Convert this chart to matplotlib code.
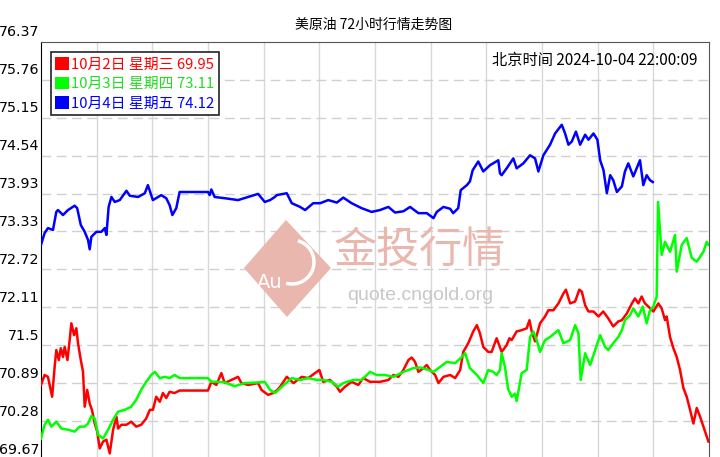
import matplotlib
matplotlib.use("Agg")
import matplotlib.pyplot as plt
import matplotlib.patches as patches
from matplotlib.transforms import ScaledTranslation

plt.rcParams['font.family'] = ['Noto Sans CJK SC', 'DejaVu Sans']

# price scale shown on the left (top to bottom)
y_ticks = [76.37, 75.76, 75.15, 74.54, 73.93, 73.33, 72.72, 72.11, 71.5, 70.89, 70.28, 69.67]
y_labels = ['76.37', '75.76', '75.15', '74.54', '73.93', '73.33', '72.72', '72.11', '71.5', '70.89', '70.28', '69.67']

legend_labels = ['10月2日 星期三 69.95', '10月3日 星期四 73.11', '10月4日 星期五 74.12']

# hours since start of the 24h window / price
red_h = [0.00, 0.13, 0.25, 0.40, 0.49, 0.55, 0.64, 0.71, 0.79, 0.85,
         0.95, 1.03, 1.09, 1.19, 1.27, 1.33, 1.43, 1.51, 1.57, 1.66,
         1.75, 1.83, 1.93, 2.02, 2.11, 2.23, 2.35, 2.47, 2.59, 2.71,
         2.77, 2.89, 3.07, 3.24, 3.42, 3.60, 3.78, 3.91, 4.02, 4.14,
         4.27, 4.38, 4.50, 4.62, 4.80, 4.98, 6.00, 6.12, 6.30, 6.48,
         6.60, 6.84, 7.08, 7.20, 7.44, 7.80, 7.92, 8.16, 8.34, 8.49,
         8.59, 8.83, 9.07, 9.37, 9.60, 9.85, 10.00, 10.14, 10.38, 10.63,
         10.74, 10.92, 11.16, 11.40, 11.58, 11.82, 12.18, 12.48, 12.66, 12.84,
         13.02, 13.20, 13.32, 13.44, 13.56, 13.74, 13.86, 13.98, 14.16, 14.28,
         14.46, 14.70, 14.88, 15.06, 15.17, 15.35, 15.53, 15.66, 15.77, 15.89,
         16.07, 16.19, 16.37, 16.55, 16.73, 16.83, 16.91, 17.09, 17.27, 17.45,
         17.55, 17.63, 17.75, 17.93, 18.11, 18.23, 18.41, 18.59, 18.77, 18.86,
         19.01, 19.19, 19.34, 19.43, 19.55, 19.67, 19.85, 20.03, 20.20, 20.38,
         20.56, 20.74, 20.87, 21.05, 21.23, 21.34, 21.46, 21.58, 21.70, 21.82,
         22.00, 22.18, 22.30, 22.42, 22.48, 22.60, 22.72, 22.84, 22.96, 23.08,
         23.20, 23.32, 23.44, 23.56, 23.68, 23.80, 23.98]
red_v = [70.86, 71.02, 70.99, 70.67, 71.15, 71.42, 71.26, 71.45, 71.31, 71.47,
         71.26, 71.58, 71.85, 71.66, 71.77, 71.53, 71.26, 71.07, 70.51, 70.78,
         70.56, 70.46, 70.24, 70.11, 69.84, 69.95, 69.98, 69.76, 70.14, 70.35,
         70.16, 70.22, 70.22, 70.27, 70.19, 70.22, 70.32, 70.46, 70.46, 70.67,
         70.59, 70.73, 70.65, 70.75, 70.73, 70.77, 70.77, 70.91, 70.86, 71.05,
         70.89, 70.94, 70.99, 70.89, 70.86, 70.89, 70.78, 70.70, 70.73, 70.78,
         70.83, 70.99, 70.89, 70.99, 70.97, 71.05, 71.10, 70.91, 70.94, 70.83,
         70.75, 70.83, 70.91, 70.86, 70.97, 70.91, 70.91, 70.94, 71.02, 70.99,
         71.10, 71.26, 71.30, 71.23, 71.07, 71.13, 71.18, 71.10, 71.02, 70.89,
         70.99, 71.02, 70.97, 71.10, 71.39, 71.53, 71.72, 71.82, 71.69, 71.47,
         71.39, 71.39, 71.61, 71.39, 71.50, 71.61, 71.58, 71.72, 71.74, 71.77,
         71.90, 71.72, 71.56, 71.85, 71.96, 72.06, 72.06, 72.17, 72.33, 72.39,
         72.17, 72.20, 72.39, 72.36, 72.14, 72.04, 72.04, 71.96, 72.04, 71.93,
         71.80, 71.88, 71.90, 72.01, 72.17, 72.25, 72.17, 72.28, 72.17, 72.12,
         72.04, 72.17, 72.09, 71.90, 71.96, 71.63, 71.45, 71.31, 71.10, 70.81,
         70.67, 70.46, 70.24, 70.49, 70.35, 70.19, 69.95]

green_h = [0.00, 0.13, 0.25, 0.37, 0.55, 0.73, 0.97, 1.21, 1.39, 1.57,
           1.69, 1.81, 1.93, 2.05, 2.23, 2.41, 2.59, 2.77, 3.01, 3.24,
           3.42, 3.60, 3.78, 3.96, 4.09, 4.27, 4.44, 4.62, 4.80, 4.98,
           6.00, 6.12, 6.36, 6.60, 6.96, 7.32, 7.80, 8.04, 8.23, 8.41,
           8.65, 9.01, 9.31, 9.60, 9.91, 10.14, 10.45, 10.68, 10.86, 11.22,
           11.52, 11.82, 12.06, 12.36, 12.66, 13.02, 13.38, 13.62, 13.86, 14.10,
           14.34, 14.58, 14.88, 15.12, 15.24, 15.41, 15.66, 15.89, 16.07, 16.25,
           16.37, 16.49, 16.55, 16.67, 16.78, 16.91, 17.03, 17.09, 17.27, 17.45,
           17.57, 17.69, 17.81, 17.93, 18.11, 18.29, 18.59, 18.77, 19.01, 19.19,
           19.31, 19.39, 19.55, 19.73, 19.91, 20.09, 20.27, 20.38, 20.56, 20.74,
           20.87, 20.98, 21.16, 21.28, 21.46, 21.62, 21.76, 21.88, 22.00, 22.12,
           22.17, 22.30, 22.42, 22.60, 22.78, 22.84, 23.02, 23.20, 23.38, 23.56,
           23.80, 23.92, 23.98]
green_v = [70.00, 70.22, 70.30, 70.19, 70.27, 70.16, 70.14, 70.11, 70.19, 70.19,
           70.24, 70.36, 70.32, 70.06, 70.00, 70.14, 70.30, 70.43, 70.46, 70.51,
           70.62, 70.78, 70.91, 71.02, 71.07, 70.97, 70.99, 70.97, 71.02, 70.97,
           70.97, 70.91, 70.91, 70.90, 70.84, 70.89, 70.90, 70.91, 70.78, 70.73,
           70.83, 70.97, 70.94, 70.97, 70.94, 70.94, 70.91, 70.83, 70.89, 70.94,
           70.94, 71.07, 71.02, 71.02, 70.99, 71.07, 71.13, 71.14, 71.11, 71.07,
           71.15, 71.23, 71.21, 71.31, 71.37, 71.13, 71.02, 70.89, 71.10, 71.07,
           71.02, 71.10, 71.37, 71.15, 70.80, 70.67, 70.72, 70.60, 71.05, 71.10,
           71.63, 71.72, 71.58, 71.39, 71.58, 71.63, 71.74, 71.53, 71.58, 71.82,
           71.69, 70.94, 71.37, 71.18, 71.42, 71.66, 71.47, 71.42, 71.53, 71.63,
           71.74, 71.90, 71.98, 72.09, 71.96, 72.12, 71.85, 72.06, 72.12, 72.28,
           73.80, 72.95, 73.16, 73.00, 73.27, 72.68, 73.11, 73.22, 72.90, 72.84,
           73.00, 73.16, 73.11]

blue_h = [0.00, 0.13, 0.25, 0.43, 0.55, 0.61, 0.79, 0.97, 1.21, 1.30,
          1.43, 1.57, 1.69, 1.75, 1.81, 1.99, 2.17, 2.29, 2.35, 2.43,
          2.53, 2.65, 2.83, 3.07, 3.19, 3.49, 3.73, 3.84, 4.02, 4.32,
          4.50, 4.62, 4.72, 4.86, 4.98, 6.00, 6.06, 6.12, 6.24, 6.60,
          7.08, 7.44, 7.80, 8.04, 8.23, 8.40, 8.47, 8.83, 9.01, 9.31,
          9.49, 9.78, 10.03, 10.32, 10.63, 10.86, 11.16, 11.52, 11.88, 12.18,
          12.48, 12.72, 13.02, 13.26, 13.56, 13.86, 14.10, 14.22, 14.46, 14.70,
          14.81, 14.99, 15.08, 15.30, 15.41, 15.51, 15.71, 15.89, 16.13, 16.43,
          16.49, 16.55, 16.73, 16.97, 17.09, 17.33, 17.57, 17.75, 17.87, 18.05,
          18.29, 18.47, 18.71, 18.83, 18.95, 19.07, 19.22, 19.37, 19.55, 19.67,
          19.85, 19.99, 20.09, 20.21, 20.33, 20.45, 20.56, 20.69, 20.87, 20.98,
          21.10, 21.28, 21.52, 21.64, 21.76, 21.88, 21.98]
blue_v = [73.11, 73.30, 73.38, 73.35, 73.64, 73.67, 73.59, 73.67, 73.74, 73.70,
          73.43, 73.32, 73.19, 73.04, 73.24, 73.32, 73.32, 73.38, 73.27, 73.72,
          73.88, 73.80, 73.83, 73.98, 73.90, 73.88, 73.94, 74.07, 73.83, 73.91,
          73.86, 73.75, 73.59, 73.70, 73.96, 73.96, 73.91, 74.00, 73.88, 73.86,
          73.83, 73.88, 73.93, 73.80, 73.83, 73.88, 73.91, 73.94, 73.78, 73.72,
          73.67, 73.78, 73.78, 73.83, 73.79, 73.87, 73.78, 73.70, 73.64, 73.67,
          73.72, 73.63, 73.65, 73.72, 73.62, 73.62, 73.54, 73.64, 73.72, 73.69,
          73.62, 73.70, 73.99, 74.07, 74.13, 74.31, 74.45, 74.29, 74.39, 74.47,
          74.26, 74.23, 74.34, 74.50, 74.34, 74.42, 74.55, 74.50, 74.29, 74.55,
          74.72, 74.90, 75.04, 74.90, 74.72, 74.77, 74.93, 74.72, 74.88, 74.80,
          74.90, 74.80, 74.47, 74.31, 73.94, 74.23, 74.15, 73.96, 74.05, 74.29,
          74.42, 74.21, 74.47, 74.07, 74.23, 74.15, 74.12]

RED, GREEN, BLUE = '#ff0000', '#00ff00', '#0000ff'

fig = plt.figure(figsize=(7.2, 4.57), dpi=100)
fig.patch.set_facecolor('white')
ax = fig.add_axes([41 / 720, -2 / 457, 668 / 720, 417 / 457])

ax.set_xlim(0, 24)
ax.set_ylim(69.67, 76.37)

# grid: solid verticals, dashed horizontals
for h in range(2, 24, 2):
    ax.axvline(h, color='#d8d8d8', lw=1, zorder=0)
for v in y_ticks[1:-1]:
    ax.axhline(v, color='#d0d0d0', lw=1, ls=(0, (7, 4)), zorder=0)

# watermark (pixel coords -> figure fraction)
def px(x, y):
    return x / 720, 1 - y / 457

wm = '#eab7ae'
diamond = patches.Polygon([px(286, 220), px(331, 268), px(287, 317), px(244, 268)],
                          closed=True, transform=fig.transFigure, facecolor=wm,
                          edgecolor='none', zorder=1)
fig.patches.append(diamond)
arc = patches.Arc(px(292, 262), 44 / 720, 44 / 457, theta1=-100, theta2=80,
                  transform=fig.transFigure, color='white', lw=2.5)
fig.patches.append(arc)
fig.text(*px(270, 283), 'Au', color='white', fontsize=14, ha='center', va='center',
         family='DejaVu Sans')
fig.text(*px(420, 252), '金投行情', color=wm, fontsize=31, ha='center', va='center',
         weight='medium')
fig.text(*px(420, 295), 'quote.cngold.org', color='#c8c8c8', fontsize=14,
         ha='center', va='center', family='Liberation Sans')

ax.plot(red_h, red_v, color=RED, lw=1.8, zorder=3)
ax.plot(green_h, green_v, color=GREEN, lw=1.8, zorder=3)
ax.plot(blue_h, blue_v, color=BLUE, lw=1.8, zorder=3)

ax.set_xticks([])
ax.set_yticks(y_ticks)
ax.set_yticklabels(y_labels, fontsize=10.3, family='DejaVu Sans')
ax.tick_params(axis='y', length=0, pad=1)
# labels sit a little above their gridline, as in the original
offset = ScaledTranslation(0, 0.11, fig.dpi_scale_trans)
for lab in ax.get_yticklabels():
    lab.set_transform(lab.get_transform() + offset)

ax.spines['left'].set_color('black')
ax.spines['top'].set_color('#555555')
ax.spines['right'].set_color('#555555')
ax.spines['bottom'].set_visible(False)

handles = [patches.Patch(facecolor=c, edgecolor='none') for c in (RED, GREEN, BLUE)]
leg = ax.legend(handles, legend_labels, loc='upper left',
                bbox_to_anchor=(0.0145, 0.975), borderaxespad=0, fontsize=10.7,
                labelcolor=[RED, '#22dd22', BLUE], handlelength=0.9,
                handleheight=0.95, handletextpad=0.2, labelspacing=0.35,
                borderpad=0.3, fancybox=False, framealpha=1)
leg.get_frame().set_edgecolor('#222222')
leg.get_frame().set_linewidth(1.2)

fig.text(374 / 720, 1 - 25 / 457, '美原油 72小时行情走势图', ha='center', va='center',
         fontsize=10)
fig.text(698 / 720, 1 - 60 / 457, '北京时间 2024-10-04 22:00:09', ha='right',
         va='center', fontsize=11)

fig.savefig('out.png', dpi=100)
